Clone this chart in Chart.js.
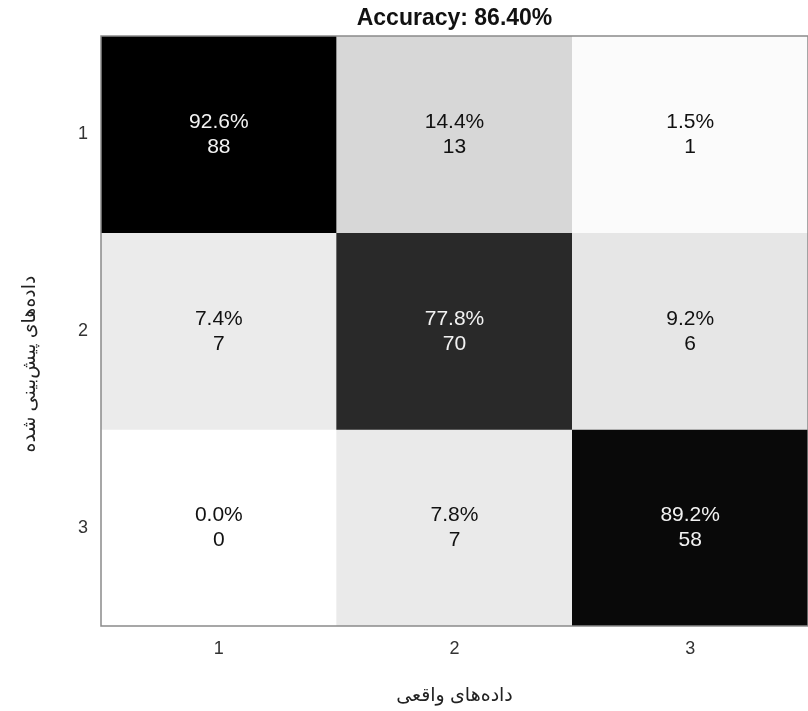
<!DOCTYPE html>
<html lang="en">

<head>
    <meta charset="UTF-8">
    <title>Confusion Matrix</title>
    <script src="https://cdn.jsdelivr.net/npm/chart.js"></script>
    <style>
        body { margin: 0; background: #fff; }
    </style>
</head>

<body>
    <canvas id="myChart" width="808" height="711"></canvas>

    <script>
        var classLabels = ['1', '2', '3'];
        var row1Percent = [92.6, 14.4, 1.5];
        var row2Percent = [7.4, 77.8, 9.2];
        var row3Percent = [0.0, 7.8, 89.2];
        var row1Count = [88, 13, 1];
        var row2Count = [7, 70, 6];
        var row3Count = [0, 7, 58];
        var titleText = 'Accuracy: 86.40%';
        var xTitle = 'داده‌های واقعی';
        var yTitle = 'داده‌های پیش‌بینی شده';

        var percents = [row1Percent, row2Percent, row3Percent];
        var counts = [row1Count, row2Count, row3Count];
        var maxPct = Math.max.apply(null, percents.flat());
        var fontFamily = 'Arial, "Liberation Sans", "DejaVu Sans", sans-serif';

        function grayFor(p) {
            var g = Math.round(255 * (1 - p / maxPct));
            return 'rgb(' + g + ',' + g + ',' + g + ')';
        }

        var datasets = percents.map(function (rowPct, r) {
            return {
                label: 'row ' + classLabels[r],
                data: rowPct.map(function () { return [r + 0.5, r + 1.5]; }),
                backgroundColor: rowPct.map(grayFor),
                borderWidth: 0,
                borderSkipped: false,
                grouped: false,
                barPercentage: 1,
                categoryPercentage: 1
            };
        });

        // cell texts, frame, title and the y title (it sits a bit below centre in the original)
        var matrixPlugin = {
            id: 'matrixText',
            afterDatasetsDraw: function (chart) {
                var ctx = chart.ctx;
                var xs = chart.scales.x, ys = chart.scales.y;
                var area = chart.chartArea;
                ctx.save();
                ctx.textAlign = 'center';
                ctx.textBaseline = 'middle';
                ctx.font = '21px ' + fontFamily;
                percents.forEach(function (rowPct, r) {
                    rowPct.forEach(function (p, c) {
                        var cx = xs.getPixelForValue(c);
                        var cy = ys.getPixelForValue(r + 1);
                        ctx.fillStyle = p > 50 ? '#f2f2f2' : '#111';
                        ctx.fillText(p.toFixed(1) + '%', cx, cy - 12);
                        ctx.fillText(String(counts[r][c]), cx, cy + 13);
                    });
                });
                ctx.strokeStyle = '#8a8a8a';
                ctx.lineWidth = 1.5;
                ctx.strokeRect(area.left, area.top, area.right - area.left, area.bottom - area.top);
                ctx.fillStyle = '#111';
                ctx.font = 'bold 23px ' + fontFamily;
                ctx.fillText(titleText, (area.left + area.right) / 2, 19);

                ctx.translate(30, ys.getPixelForValue(2) + 33);
                ctx.rotate(-Math.PI / 2);
                ctx.fillStyle = '#222';
                ctx.font = '19px ' + fontFamily;
                ctx.fillText(yTitle, 0, 0);
                ctx.restore();
            }
        };

        var ctx = document.getElementById('myChart').getContext('2d');
        var myChart = new Chart(ctx, {
            type: 'bar',
            data: {
                labels: classLabels,
                datasets: datasets
            },
            options: {
                responsive: false,
                animation: false,
                layout: { padding: { top: 36, right: 0, left: 0, bottom: 0 } },
                plugins: {
                    legend: { display: false },
                    tooltip: { enabled: false }
                },
                scales: {
                    x: {
                        grid: { display: false, drawTicks: false },
                        border: { display: false },
                        ticks: { color: '#333', padding: 12, font: { size: 18, family: fontFamily } },
                        title: {
                            display: true,
                            text: xTitle,
                            color: '#222',
                            padding: { top: 0, bottom: 4 },
                            font: { size: 19, family: fontFamily }
                        },
                        afterFit: function (s) { s.height = 85; }
                    },
                    y: {
                        type: 'linear',
                        reverse: true,
                        min: 0.5,
                        max: 3.5,
                        grid: { display: false, drawTicks: false },
                        border: { display: false },
                        afterBuildTicks: function (s) {
                            s.ticks = classLabels.map(function (l, i) { return { value: i + 1 }; });
                        },
                        ticks: {
                            color: '#333',
                            padding: 13,
                            font: { size: 18, family: fontFamily },
                            callback: function (v) { return classLabels[v - 1]; }
                        },
                        afterFit: function (s) { s.width = 101; }
                    }
                }
            },
            plugins: [matrixPlugin]
        });
    </script>
</body>

</html>
